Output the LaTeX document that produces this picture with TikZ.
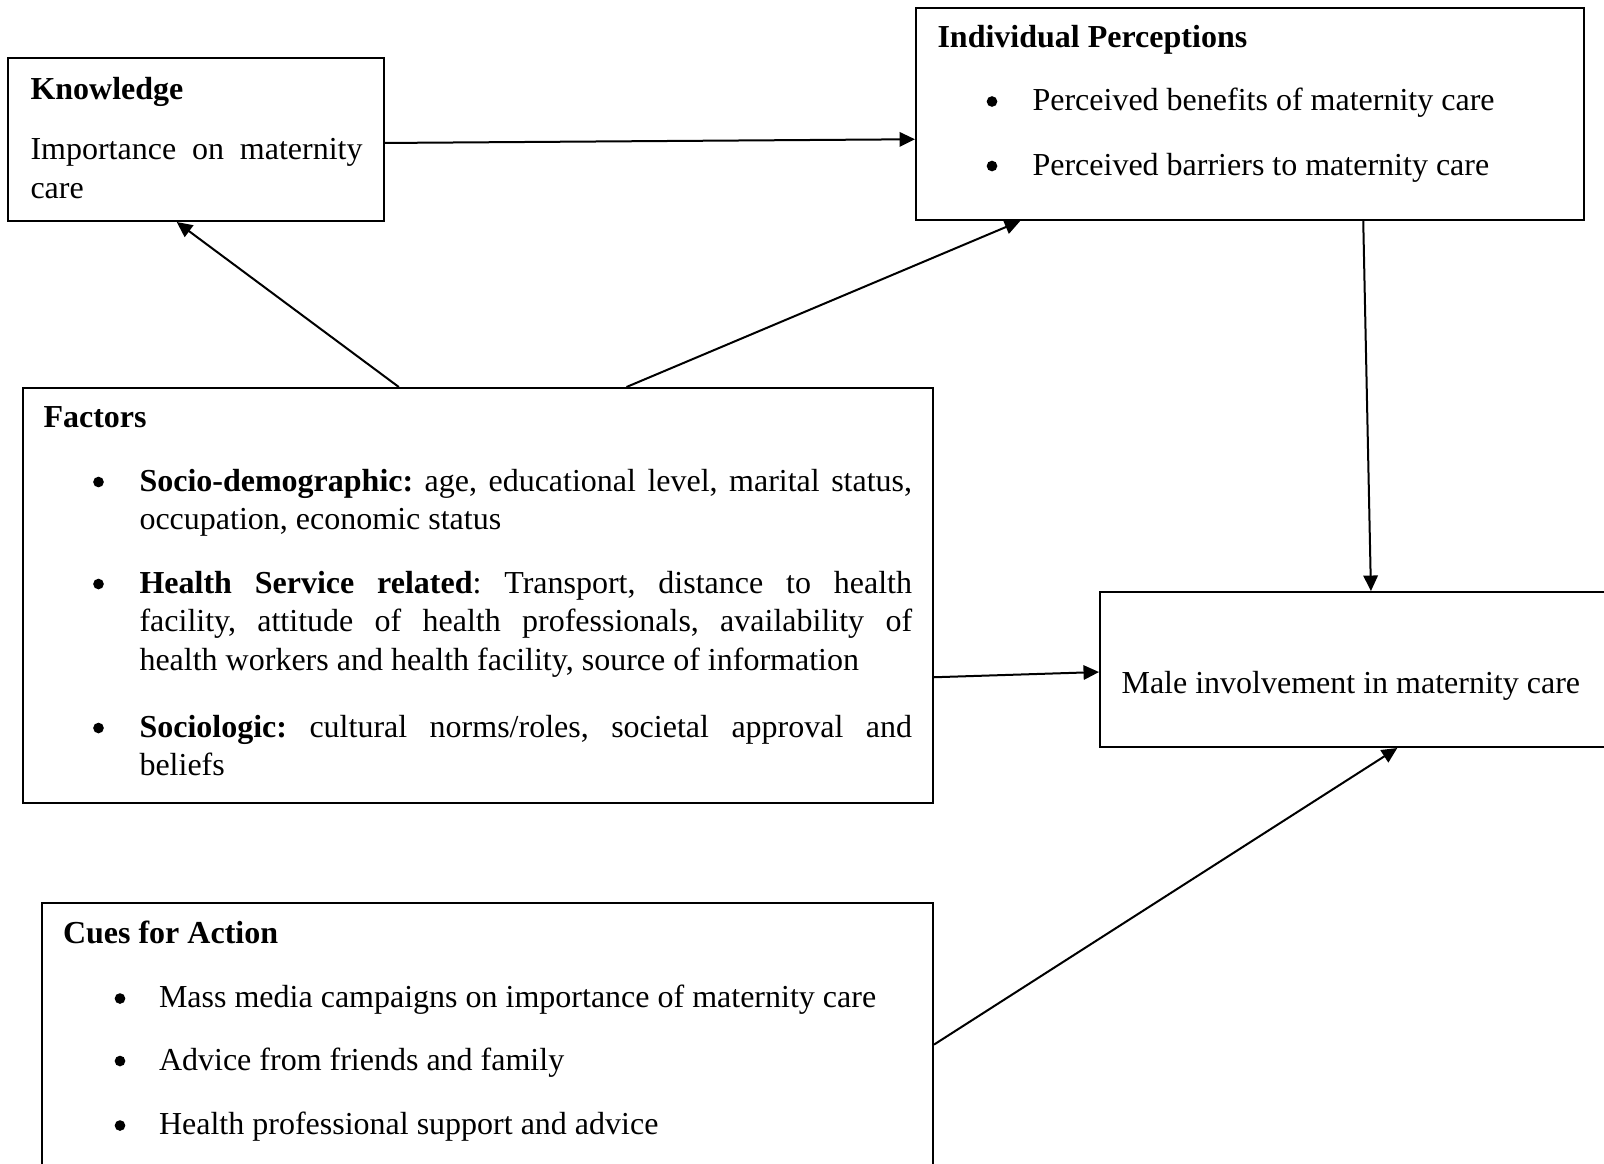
\documentclass[tikz,border=0pt]{standalone}
\usepackage{fontspec}
\setmainfont{Liberation Serif}
\usetikzlibrary{arrows.meta,calc,fit}
\newcommand\mytfont{\fontsize{12}{14.6}\selectfont\frenchspacing}
\tikzset{
  box/.style={draw, line width=0.75pt, inner sep=0pt},
  conn/.style={-{Triangle[length=5.8pt,width=5.4pt]}, line width=0.75pt},
  txt/.style={anchor=base west, inner sep=0pt, font=\mytfont},
  para/.style={txt, text width=#1, align=justify},
  dot/.style={circle, fill, draw=none, inner sep=0pt, minimum size=4pt},
}
\begin{document}
\begin{tikzpicture}[x=0.375pt,y=-0.375pt]
\useasboundingbox (0,0) rectangle (1604,1163);
\clip (0,0) rectangle (1604,1163);

% boxes
\node[box, fit={(8,58)(384,221)}] (know) {};
\node[box, fit={(916,8)(1584,220)}] (ip) {};
\node[box, fit={(22.5,388)(933,803)}] (fac) {};
\node[box, fit={(1100,592)(1615,747)}] (male) {};
\node[box, fit={(42,903)(933,1180)}] (cues) {};

% Knowledge
\node[txt] (knowT) at (30,99) {\textbf{Knowledge}};
\node[para=124.5pt] (knowB) at (30,159.5) {Importance on maternity\linebreak care};

% Individual Perceptions
\node[txt] (ipT) at (937,47.5) {\textbf{Individual Perceptions}};
\node[dot] (ipb1) at (992,101.5) {};
\node[txt] (ip1) at (1032,110.5) {Perceived benefits of maternity care};
\node[dot] (ipb2) at (992,166) {};
\node[txt] (ip2) at (1032,175) {Perceived barriers to maternity care};

% Factors
\node[txt] (facT) at (43,427.5) {\textbf{Factors}};
\node[dot] (facb1) at (98.5,482) {};
\node[para=289.7pt] (fac1) at (139,491) {\textbf{Socio-demographic:} age, educational level, marital status,\linebreak occupation, economic status};
\node[dot] (facb2) at (98.5,584) {};
\node[para=289.7pt] (fac2) at (139,593) {\textbf{Health Service related}: Transport, distance to health\linebreak facility, attitude of health professionals, availability of\linebreak health workers and health facility, source of information};
\node[dot] (facb3) at (98.5,728) {};
\node[para=289.7pt] (fac3) at (139,737) {\textbf{Sociologic:} cultural norms/roles, societal approval and\linebreak beliefs};

% Male involvement
\node[txt] (maleT) at (1121,693.5) {Male involvement in maternity care};

% Cues for Action
\node[txt] (cuesT) at (62.5,943) {\textbf{Cues for Action}};
\node[dot] (cuesb1) at (120,998.5) {};
\node[txt] (cues1) at (158.5,1007.5) {Mass media campaigns on importance of maternity care};
\node[dot] (cuesb2) at (120,1061) {};
\node[txt] (cues2) at (158.5,1070) {Advice from friends and family};
\node[dot] (cuesb3) at (120,1125.5) {};
\node[txt] (cues3) at (158.5,1134.5) {Health professional support and advice};

% connectors
\draw[conn] ($(know.north east)!0.521!(know.south east)$) -- ($(ip.north west)!0.618!(ip.south west)$);
\draw[conn] ($(fac.north west)!0.4135!(fac.north east)$) -- ($(know.south west)!0.449!(know.south east)$);
\draw[conn] ($(fac.north west)!0.663!(fac.north east)$) -- ($(ip.south west)!0.157!(ip.south east)$);
\draw[conn] ($(ip.south west)!0.669!(ip.south east)$) -- ($(male.north west)!0.526!(male.north east)$);
\draw[conn] ($(fac.north east)!0.696!(fac.south east)$) -- ($(male.north west)!0.516!(male.south west)$);
\draw[conn] ($(cues.north east)!0.511!(cues.south east)$) -- ($(male.south west)!0.577!(male.south east)$);
\end{tikzpicture}
\end{document}
